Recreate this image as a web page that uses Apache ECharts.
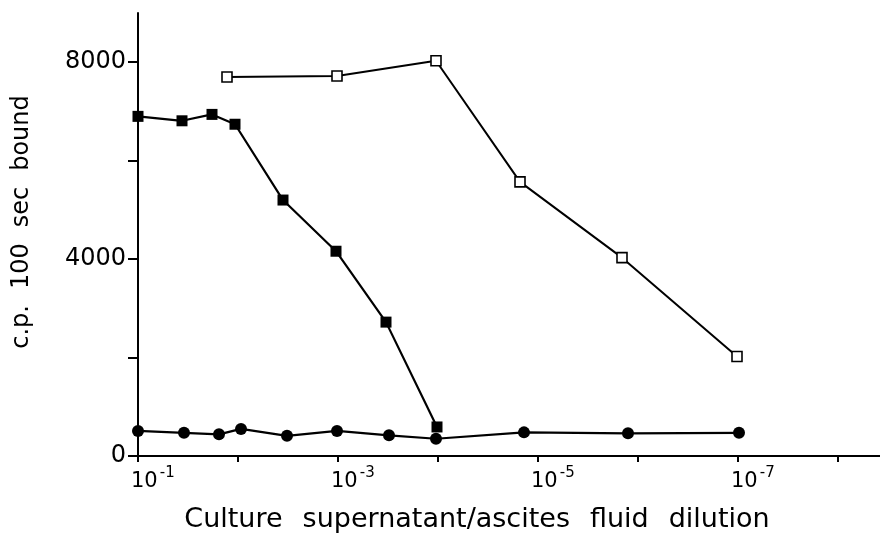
<!DOCTYPE html>
<html>
<head>
<meta charset="utf-8">
<title>Culture supernatant / ascites fluid dilution</title>
<script src="https://cdn.jsdelivr.net/npm/echarts@6/dist/echarts.min.js"></script>
<style>
    html, body { margin: 0; padding: 0; background: #fff; }
    #main { width: 880px; height: 544px; }
</style>
</head>
<body>
<div id="main"></div>
<script>
// x = dilution exponent (10^-x), y = c.p. 100 sec bound
var filledX = [1.0, 1.44, 1.74, 1.97, 2.45, 2.98, 3.48, 3.99];
var filledY = [6900, 6810, 6940, 6740, 5200, 4160, 2720, 590];

var openX = [1.89, 2.99, 3.98, 4.82, 5.84, 6.99];
var openY = [7700, 7720, 8030, 5570, 4030, 2020];

var circleX = [1.0, 1.46, 1.81, 2.03, 2.49, 2.99, 3.51, 3.98, 4.86, 5.9, 7.01];
var circleY = [510, 470, 440, 550, 410, 510, 420, 350, 480, 460, 470];

var xLabelled = [1, 3, 5, 7];   // 10^-1, 10^-3 ...
var yLabelled = [0, 4000, 8000];

function pairs(xs, ys) {
    var out = [];
    for (var i = 0; i < xs.length; i++) {
        out.push([xs[i], ys[i]]);
    }
    return out;
}

var FONT = 'DejaVu Sans';

var chart = echarts.init(document.getElementById('main'));
var option = {
    backgroundColor: '#fff',
    animation: false,
    grid: {
        left: 138,
        right: 0,
        top: 13,
        bottom: 88,
        outerBoundsMode: 'none'
    },
    xAxis: {
        type: 'value',
        min: 1,
        max: 8.42,
        interval: 1,
        splitLine: {show: false},
        axisLine: {lineStyle: {color: '#000', width: 2}},
        axisTick: {length: 6, lineStyle: {color: '#000', width: 2}},
        axisLabel: {
            margin: 10,
            align: 'left',
            padding: [0, 0, 0, -7],
            color: '#000',
            fontFamily: FONT,
            showMaxLabel: false,
            formatter: function (v) {
                if (xLabelled.indexOf(v) < 0) {
                    return '';
                }
                return '{b|10}{s|-' + v + '}';
            },
            rich: {
                b: {fontSize: 21, fontFamily: FONT, color: '#000', verticalAlign: 'bottom', lineHeight: 26},
                s: {fontSize: 15, fontFamily: FONT, color: '#000', verticalAlign: 'top', lineHeight: 26, padding: [0, 0, 0, 2]}
            }
        },
        name: '{w|Culture}{w|supernatant/ascites}{w|fluid}{w|dilution}',
        nameLocation: 'middle',
        nameGap: 50,
        nameTextStyle: {
            padding: [0, 64, 0, 0],
            rich: {
                w: {fontSize: 27, fontFamily: FONT, color: '#000', padding: [0, 10]}
            }
        }
    },
    yAxis: {
        type: 'value',
        min: 0,
        max: 9000,
        interval: 2000,
        splitLine: {show: false},
        axisLine: {show: true, lineStyle: {color: '#000', width: 2}},
        axisTick: {show: true, length: 10, lineStyle: {color: '#000', width: 2}},
        axisLabel: {
            margin: 12,
            color: '#000',
            fontSize: 24,
            fontFamily: FONT,
            showMaxLabel: false,
            formatter: function (v) {
                return yLabelled.indexOf(v) < 0 ? '' : String(v);
            }
        },
        name: '{w|c.p.}{w|100}{w|sec}{w|bound}',
        nameLocation: 'middle',
        nameGap: 104,
        nameTextStyle: {
            padding: [0, 0, 0, 25],
            rich: {
                w: {fontSize: 24, fontFamily: FONT, color: '#000', padding: [0, 8]}
            }
        }
    },
    series: [
        {
            name: 'open squares',
            type: 'line',
            data: pairs(openX, openY),
            symbol: 'rect',
            symbolSize: 10,
            lineStyle: {color: '#000', width: 2},
            itemStyle: {color: '#fff', borderColor: '#000', borderWidth: 1.6}
        },
        {
            name: 'filled squares',
            type: 'line',
            data: pairs(filledX, filledY),
            symbol: 'rect',
            symbolSize: 11,
            lineStyle: {color: '#000', width: 2.2},
            itemStyle: {color: '#000'}
        },
        {
            name: 'circles',
            type: 'line',
            data: pairs(circleX, circleY),
            symbol: 'circle',
            symbolSize: 12,
            lineStyle: {color: '#000', width: 2.2},
            itemStyle: {color: '#000'}
        }
    ]
};
chart.setOption(option);
window.onresize = chart.resize;
</script>
</body>
</html>
